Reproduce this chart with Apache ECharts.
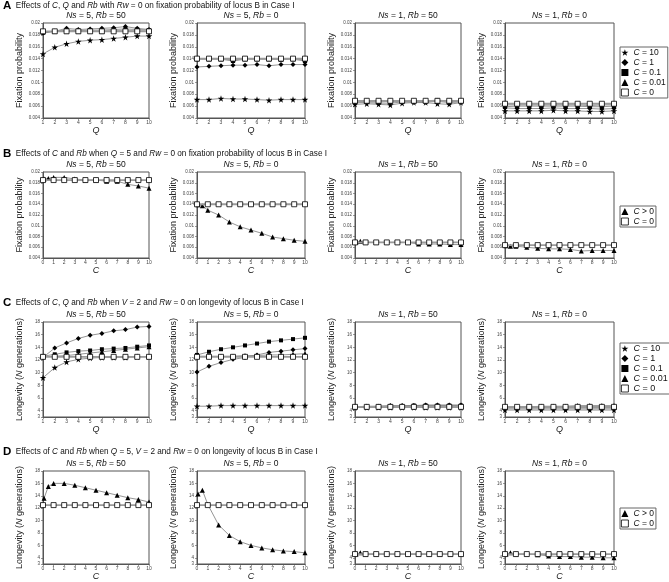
<!DOCTYPE html>
<html><head><meta charset="utf-8">
<script src="https://cdn.jsdelivr.net/npm/echarts@6/dist/echarts.min.js"></script>
<style>html,body{margin:0;padding:0;background:#fff}#c{width:669px;height:582px}</style>
</head><body><div id="c"></div>
<script>
// ---------- DATA ----------
const qValues = [1,2,3,4,5,6,7,8,9,10];
const cValues = [0.1,0.5,1,2,3,4,5,6,7,8,9,10];
const cZeroX = [0,1,2,3,4,5,6,7,8,9,10];
const fixTickValues = [0.004,0.006,0.008,0.01,0.012,0.014,0.016,0.018,0.02];
const longTickValues = [3,4,6,8,10,12,14,16,18];

// Row A: fixation probability vs Q
const fA1_c10  = [0.0148,0.0159,0.0165,0.0169,0.0171,0.0172,0.0174,0.0176,0.0178,0.0178];
const fA1_c1   = [0.0183,0.0186,0.0191,0.0189,0.0190,0.0191,0.0192,0.0194,0.0191,0.0189];
const fA1_c01  = [0.0184,0.0186,0.0188,0.0187,0.0188,0.0188,0.0189,0.0190,0.0189,0.0188];
const fA1_c001 = [0.0185,0.0186,0.0186,0.0186,0.0186,0.0186,0.0187,0.0187,0.0187,0.0186];
const fA1_c0   = [0.0186,0.0186,0.0186,0.0186,0.0186,0.0186,0.0186,0.0186,0.0186,0.0186];

const fA2_c10  = [0.0071,0.0071,0.0073,0.0072,0.0072,0.0071,0.0070,0.0071,0.0071,0.0071];
const fA2_c1   = [0.0126,0.0127,0.0128,0.0129,0.0129,0.0130,0.0128,0.0130,0.0130,0.0130];
const fA2_c01  = [0.0139,0.0139,0.0139,0.0136,0.0139,0.0139,0.0139,0.0139,0.0139,0.0136];
const fA2_c001 = [0.0140,0.0140,0.0140,0.0138,0.0140,0.0140,0.0140,0.0139,0.0140,0.0138];
const fA2_c0   = [0.0140,0.0140,0.0140,0.0140,0.0140,0.0140,0.0140,0.0140,0.0140,0.0140];

const fA3_c10  = [0.0063,0.0064,0.0063,0.0062,0.0065,0.0066,0.0066,0.0064,0.0063,0.0066];
const fA3_c1   = [0.0066,0.0066,0.0065,0.0065,0.0067,0.0067,0.0067,0.0068,0.0066,0.0067];
const fA3_c01  = [0.0068,0.0068,0.0067,0.0068,0.0068,0.0068,0.0068,0.0070,0.0068,0.0068];
const fA3_c001 = [0.0069,0.0069,0.0069,0.0069,0.0069,0.0069,0.0069,0.0070,0.0069,0.0069];
const fA3_c0   = [0.0069,0.0069,0.0069,0.0069,0.0069,0.0069,0.0069,0.0069,0.0069,0.0069];

const fA4_c10  = [0.0052,0.0052,0.0052,0.0052,0.0053,0.0052,0.0052,0.0051,0.0051,0.0052];
const fA4_c1   = [0.0057,0.0056,0.0056,0.0056,0.0057,0.0056,0.0056,0.0056,0.0055,0.0056];
const fA4_c01  = [0.0059,0.0060,0.0060,0.0060,0.0060,0.0060,0.0060,0.0059,0.0059,0.0060];
const fA4_c001 = [0.0062,0.0062,0.0062,0.0062,0.0062,0.0062,0.0062,0.0061,0.0062,0.0062];
const fA4_c0   = [0.0064,0.0064,0.0064,0.0064,0.0064,0.0064,0.0064,0.0064,0.0064,0.0064];

// Row B: fixation probability vs C (Q = 5)
const fB1_cpos = [0.0187,0.0188,0.0190,0.0190,0.0187,0.0185,0.0185,0.0183,0.0183,0.0177,0.0174,0.0170];
const fB1_c0   = [0.0185,0.0185,0.0185,0.0185,0.0185,0.0185,0.0185,0.0185,0.0185,0.0185,0.0185];
const fB2_cpos = [0.0139,0.0137,0.0129,0.0120,0.0107,0.0098,0.0092,0.0086,0.0079,0.0076,0.0073,0.0071];
const fB2_c0   = [0.0140,0.0140,0.0140,0.0140,0.0140,0.0140,0.0140,0.0140,0.0140,0.0140,0.0140];
const fB3_cpos = [0.0070,0.0071,0.0069,0.0069,0.0069,0.0069,0.0069,0.0066,0.0066,0.0066,0.0065,0.0065];
const fB3_c0   = [0.0069,0.0069,0.0069,0.0069,0.0069,0.0069,0.0069,0.0069,0.0069,0.0069,0.0069];
const fB4_cpos = [0.0063,0.0062,0.0062,0.0060,0.0058,0.0057,0.0057,0.0056,0.0053,0.0054,0.0054,0.0054];
const fB4_c0   = [0.0064,0.0064,0.0064,0.0064,0.0064,0.0064,0.0064,0.0064,0.0064,0.0064,0.0064];

// Row C: longevity vs Q
const lC1_c10  = [9.2,10.8,11.7,12.1,12.3,12.4,12.4,12.4,12.5,12.5];
const lC1_c1   = [12.4,13.9,14.7,15.4,15.9,16.2,16.6,16.8,17.2,17.3];
const lC1_c01  = [12.6,12.9,13.2,13.4,13.5,13.7,13.8,13.9,14.1,14.3];
const lC1_c001 = [12.5,12.6,12.7,12.9,13.1,13.3,13.5,13.7,13.9,14.1];
const lC1_c0   = [12.5,12.5,12.5,12.5,12.5,12.5,12.5,12.5,12.5,12.5];

const lC2_c10  = [4.7,4.7,4.8,4.8,4.8,4.8,4.8,4.8,4.8,4.8];
const lC2_c1   = [10.1,11.0,11.6,12.1,12.4,12.8,13.2,13.4,13.6,13.8];
const lC2_c01  = [12.8,13.3,13.7,14.0,14.3,14.6,14.9,15.1,15.3,15.5];
const lC2_c001 = [12.6,12.6,12.6,12.6,12.7,12.7,12.8,12.8,12.9,13.0];
const lC2_c0   = [12.5,12.5,12.5,12.5,12.5,12.5,12.5,12.5,12.5,12.5];

const lC3_c10  = [4.5,4.5,4.5,4.5,4.5,4.5,4.5,4.5,4.5,4.5];
const lC3_c1   = [4.6,4.7,4.7,4.8,4.8,4.8,4.9,4.9,4.9,4.9];
const lC3_c01  = [4.6,4.6,4.7,4.7,4.7,4.8,4.8,4.8,4.8,4.8];
const lC3_c001 = [4.6,4.6,4.6,4.6,4.7,4.7,4.7,4.7,4.7,4.7];
const lC3_c0   = [4.6,4.6,4.6,4.6,4.6,4.6,4.6,4.6,4.6,4.6];

const lC4_c10  = [4.1,4.1,4.1,4.1,4.1,4.1,4.1,4.1,4.1,4.1];
const lC4_c1   = [4.3,4.3,4.3,4.3,4.3,4.3,4.3,4.3,4.3,4.3];
const lC4_c01  = [4.5,4.5,4.5,4.5,4.5,4.5,4.5,4.5,4.5,4.5];
const lC4_c001 = [4.6,4.6,4.6,4.7,4.7,4.7,4.8,4.8,4.8,4.8];
const lC4_c0   = [4.6,4.6,4.6,4.6,4.6,4.6,4.6,4.6,4.6,4.6];

// Row D: longevity vs C (Q = 5)
const lD1_cpos = [13.6,15.5,16.0,16.0,15.7,15.3,14.9,14.5,14.1,13.7,13.4,13.0];
const lD1_c0   = [12.5,12.5,12.5,12.5,12.5,12.5,12.5,12.5,12.5,12.5,12.5];
const lD2_cpos = [14.3,14.9,12.6,9.3,7.6,6.6,6.0,5.6,5.3,5.1,5.0,4.8];
const lD2_c0   = [12.5,12.5,12.5,12.5,12.5,12.5,12.5,12.5,12.5,12.5,12.5];
const lD3_cpos = [4.6,4.8,4.6,4.6,4.6,4.6,4.6,4.6,4.6,4.6,4.6,4.6];
const lD3_c0   = [4.6,4.6,4.6,4.6,4.6,4.6,4.6,4.6,4.6,4.6,4.6];
const lD4_cpos = [4.6,4.8,4.6,4.6,4.5,4.3,4.2,4.2,4.1,4.1,4.0,4.0];
const lD4_c0   = [4.6,4.6,4.6,4.6,4.6,4.6,4.6,4.6,4.6,4.6,4.6];

const panelTitles = [['5','50'],['5','0'],['1','50'],['1','0']];

// ---------- LAYOUT / STYLE ----------
const FONT = '"Liberation Sans", Arial, sans-serif';
const colLeft = [43,197,355,505];
const colWidth = [106,108,106,109];
const rowTop = [23,172,322,471];
const rowHeight = [95,86,95,95];
const headerTop = [0,148,297,446];

const STAR = 'path://M50,0 L61,35 L98,35 L68,57 L79,91 L50,70 L21,91 L32,57 L2,35 L39,35 Z';
const styleOf = {
  'C = 10':   {symbol: STAR, size: 6.5, fill: '#000'},
  'C = 1':    {symbol: 'diamond', size: 5, fill: '#000'},
  'C = 0.1':  {symbol: 'rect', size: 4, fill: '#000'},
  'C = 0.01': {symbol: 'triangle', size: 5, fill: '#000'},
  'C > 0':    {symbol: 'triangle', size: 5, fill: '#000'},
  'C = 0':    {symbol: 'rect', size: 5, fill: '#fff'}
};

function pairs(xs, ys){ return ys.map((y,i)=>[xs[i], y]); }

const grids=[], xAxes=[], yAxes=[], series=[], titles=[];
const rowData = [
  [[fA1_c10,fA1_c1,fA1_c01,fA1_c001,fA1_c0],[fA2_c10,fA2_c1,fA2_c01,fA2_c001,fA2_c0],[fA3_c10,fA3_c1,fA3_c01,fA3_c001,fA3_c0],[fA4_c10,fA4_c1,fA4_c01,fA4_c001,fA4_c0]],
  [[fB1_cpos,fB1_c0],[fB2_cpos,fB2_c0],[fB3_cpos,fB3_c0],[fB4_cpos,fB4_c0]],
  [[lC1_c10,lC1_c1,lC1_c01,lC1_c001,lC1_c0],[lC2_c10,lC2_c1,lC2_c01,lC2_c001,lC2_c0],[lC3_c10,lC3_c1,lC3_c01,lC3_c001,lC3_c0],[lC4_c10,lC4_c1,lC4_c01,lC4_c001,lC4_c0]],
  [[lD1_cpos,lD1_c0],[lD2_cpos,lD2_c0],[lD3_cpos,lD3_c0],[lD4_cpos,lD4_c0]]
];
const namesQ = ['C = 10','C = 1','C = 0.1','C = 0.01','C = 0'];
const namesC = ['C > 0','C = 0'];

let gi = 0;
for (let r=0;r<4;r++){
  const isQ = (r===0||r===2);
  const isFix = (r<2);
  for (let c=0;c<4;c++){
    grids.push({left:colLeft[c], top:rowTop[r], width:colWidth[c], height:rowHeight[r],
      show:true, borderColor:'#555', borderWidth:1, backgroundColor:'#fff'});
    xAxes.push({type:'value', gridIndex:gi, min: isQ?1:0, max:10, interval:1,
      name: isQ?'Q':'C', nameLocation:'middle', nameGap:8,
      nameTextStyle:{fontStyle:'italic', fontSize:9, color:'#222', fontFamily:FONT},
      axisLine:{show:true, onZero:false, lineStyle:{color:'#555', width:1}},
      axisTick:{show:true, length:2, lineStyle:{color:'#555', width:0.6}},
      axisLabel:{fontSize:5, color:'#444', margin:2, fontFamily:FONT},
      splitLine:{show:false}});
    yAxes.push({type:'value', gridIndex:gi,
      min: isFix?fixTickValues[0]:longTickValues[0], max: isFix?fixTickValues[fixTickValues.length-1]:longTickValues[longTickValues.length-1],
      name: isFix?'Fixation probability':'Longevity ({i|N} generations)',
      nameLocation:'middle', nameGap: 19,
      nameTextStyle:{fontSize:9, color:'#222', fontFamily:FONT, rich:{i:{fontStyle:'italic', fontSize:9, color:'#222', fontFamily:FONT}}},
      axisLine:{show:true, lineStyle:{color:'#555', width:1}},
      axisTick:{show:true, length:2, customValues: isFix?fixTickValues:longTickValues, lineStyle:{color:'#555', width:0.6}},
      axisLabel:{fontSize:4.5, color:'#444', margin:3, fontFamily:FONT,
        customValues: isFix?fixTickValues:longTickValues,
        formatter: v => String(+(+v).toFixed(3))},
      splitLine:{show:false}});
    titles.push({text:'{i|Ns} = '+panelTitles[c][0]+', {i|Rb} = '+panelTitles[c][1],
      left: colLeft[c]+colWidth[c]/2, top: rowTop[r]-11.5, textAlign:'center', padding:0,
      textStyle:{fontSize:8.5, fontWeight:'normal', color:'#111', fontFamily:FONT,
        rich:{i:{fontStyle:'italic', fontSize:8.5, color:'#111', fontFamily:FONT}}}});
    const sets = rowData[r][c];
    const names = isQ ? namesQ : namesC;
    names.forEach((nm, k) => {
      const st = styleOf[nm];
      const xs = isQ ? qValues : (nm==='C = 0' ? cZeroX : cValues);
      const isZero = nm==='C = 0';
      series.push({type:'line', name:nm, xAxisIndex:gi, yAxisIndex:gi,
        data: pairs(xs, sets[k]), symbol: st.symbol, symbolSize: st.size,
        itemStyle:{color: st.fill, borderColor:'#000', borderWidth: isZero?0.8:0},
        lineStyle:{color: isZero?'#9a9a9a':'#7a7a7a', width: isZero?1.8:0.8},
        clip:false, animation:false, z: isZero?4:3, silent:true});
    });
    gi++;
  }
}

const headers = [
  '{b|A}  Effects of {i|C}, {i|Q} and {i|Rb} with {i|Rw} = 0 on fixation probability of locus B in Case I',
  '{b|B}  Effects of {i|C} and {i|Rb} when {i|Q} = 5 and {i|Rw} = 0 on fixation probability of locus B in Case I',
  '{b|C}  Effects of {i|C}, {i|Q} and {i|Rb} when {i|V} = 2 and {i|Rw} = 0 on longevity of locus B in Case I',
  '{b|D}  Effects of {i|C} and {i|Rb} when {i|Q} = 5, {i|V} = 2 and {i|Rw} = 0 on longevity of locus B in Case I'
];
headers.forEach((h, r) => titles.push({text:h, left:3, top:headerTop[r], padding:0,
  textStyle:{fontSize:8.2, fontWeight:'normal', color:'#111', fontFamily:FONT,
    rich:{b:{fontSize:11.5, fontWeight:'bold', color:'#000', fontFamily:FONT},
          i:{fontStyle:'italic', fontSize:8.2, color:'#111', fontFamily:FONT}}}}));

function legendItems(names){
  return names.map(nm => ({name:nm, icon: styleOf[nm].symbol,
    itemStyle: nm==='C = 0' ? {color:'#fff', borderColor:'#000', borderWidth:0.8} : {color:'#000', borderWidth:0}}));
}
function mkLegend(names, top, fs){
  return {orient:'vertical', left:620, top, data: legendItems(names),
    borderColor:'#666', borderWidth:1, padding:[1,2,1,1], itemGap:1,
    itemWidth:7, itemHeight:7, selectedMode:false,
    formatter: n => n.replace('C', '{i|C}'),
    textStyle:{fontSize:fs, color:'#111', fontFamily:FONT,
      rich:{i:{fontStyle:'italic', fontSize:fs, color:'#111', fontFamily:FONT}}}};
}

const chart = echarts.init(document.getElementById('c'), null, {renderer:'canvas'});
chart.setOption({
  animation:false,
  backgroundColor:'#fff',
  title: titles,
  grid: grids, xAxis: xAxes, yAxis: yAxes, series,
  legend: [mkLegend(namesQ,47,8.5), mkLegend(namesC,206,8.5), mkLegend(namesQ,343,9), mkLegend(namesC,508,8.5)]
});
</script></body></html>
